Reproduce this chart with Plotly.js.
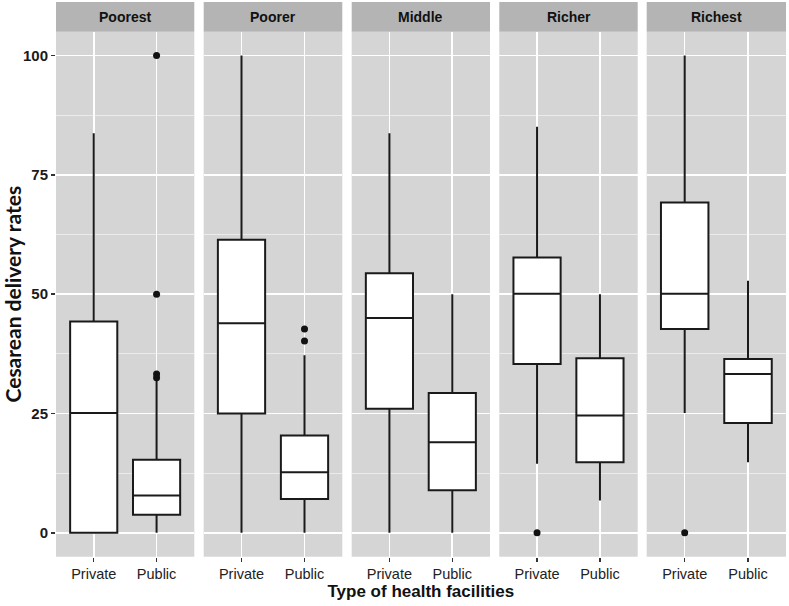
<!DOCTYPE html>
<html>
<head>
<meta charset="utf-8">
<script src="https://cdn.plot.ly/plotly-3.0.1.min.js"></script>
<style>html,body{margin:0;padding:0;background:#fff;}#chart{width:789px;height:606px;}</style>
</head>
<body>
<div id="chart"></div>
<script>
// Data
const groups = ['Poorest', 'Poorer', 'Middle', 'Richer', 'Richest'];
const facilities = ['Private', 'Public'];
const yTicks = [0, 25, 50, 75, 100];

const privateQ1     = [0,    25.0, 26.0, 35.4, 42.7];
const privateMedian = [25.1, 43.9, 45.0, 50.1, 50.1];
const privateQ3     = [44.3, 61.4, 54.4, 57.7, 69.2];
const privateLow    = [0,    0,    0,    14.5, 25.1];
const privateHigh   = [83.7, 100,  83.7, 85.1, 100];

const publicQ1      = [3.8,  7.1,  8.9,  14.8, 23.0];
const publicMedian  = [7.8,  12.7, 19.0, 24.6, 33.3];
const publicQ3      = [15.3, 20.4, 29.3, 36.6, 36.4];
const publicLow     = [0,    0,    0,    6.8,  14.8];
const publicHigh    = [31.8, 37.2, 50,   50,   52.8];

const privateOutliers = [[], [], [], [0], [0]];
const publicOutliers  = [[100, 50, 33.3, 32.5], [42.7, 40.2], [], [], []];

// Layout geometry (pixels)
const W = 789, H = 606;
const panelLeft  = [56, 203.7, 351.7, 499.3, 646.7];
const panelRight = [194.3, 342.3, 490, 637.7, 786];
const panelTop = 31.7, panelBottom = 556.7, stripTop = 2;

const lineColor = '#1a1a1a';
const traces = [];
const layout = {
  width: W, height: H,
  margin: {l: 0, r: 0, t: 0, b: 0},
  paper_bgcolor: '#ffffff',
  plot_bgcolor: '#d5d5d5',
  showlegend: false,
  shapes: [],
  annotations: []
};

const yDomain = [(H - panelBottom) / H, (H - panelTop) / H];

groups.forEach((g, i) => {
  const n = i + 1;
  const xa = n === 1 ? 'x' : 'x' + n;
  const ya = n === 1 ? 'y' : 'y' + n;
  const xKey = n === 1 ? 'xaxis' : 'xaxis' + n;
  const yKey = n === 1 ? 'yaxis' : 'yaxis' + n;

  traces.push({
    type: 'box',
    xaxis: xa, yaxis: ya,
    x: facilities,
    q1: [privateQ1[i], publicQ1[i]],
    median: [privateMedian[i], publicMedian[i]],
    q3: [privateQ3[i], publicQ3[i]],
    lowerfence: [privateLow[i], publicLow[i]],
    upperfence: [privateHigh[i], publicHigh[i]],
    width: 0.75,
    whiskerwidth: 0,
    boxpoints: false,
    fillcolor: '#ffffff',
    line: {color: lineColor, width: 2},
    hoverinfo: 'skip'
  });

  const ox = [], oy = [];
  privateOutliers[i].forEach(v => { ox.push('Private'); oy.push(v); });
  publicOutliers[i].forEach(v => { ox.push('Public'); oy.push(v); });
  traces.push({
    type: 'scatter', mode: 'markers',
    xaxis: xa, yaxis: ya,
    x: ox, y: oy,
    marker: {color: '#111111', size: 7},
    hoverinfo: 'skip'
  });

  layout[xKey] = {
    domain: [panelLeft[i] / W, panelRight[i] / W],
    anchor: ya,
    type: 'category',
    categoryorder: 'array',
    categoryarray: facilities,
    range: [-0.6, 1.6],
    showgrid: true, gridcolor: '#ffffff', gridwidth: 1.6,
    zeroline: false, showline: false,
    ticks: 'outside', ticklen: 4, tickwidth: 1.5, tickcolor: '#333333',
    tickfont: {family: 'Liberation Sans, Arial, sans-serif', size: 14.5, color: '#222222'},
    fixedrange: true
  };
  if (n === 3) {
    layout[xKey].title = {
      text: 'Type of health facilities',
      font: {family: 'Liberation Sans, Arial, sans-serif', size: 17, color: '#111111', weight: 'bold'},
      standoff: 4
    };
  }

  layout[yKey] = {
    domain: yDomain,
    anchor: xa,
    range: [-5, 105],
    tickvals: yTicks,
    ticktext: yTicks.map(String),
    showgrid: true, gridcolor: '#ffffff', gridwidth: 1.6,
    minor: {tick0: 12.5, dtick: 25, showgrid: true, gridcolor: '#ebebeb', gridwidth: 1, ticks: ''},
    zeroline: false, showline: false,
    showticklabels: n === 1,
    ticks: n === 1 ? 'outside' : '',
    ticklen: 4, tickwidth: 1.5, tickcolor: '#333333',
    tickfont: {family: 'Liberation Sans, Arial, sans-serif', size: 15, color: '#1a1a1a', weight: 'bold'},
    fixedrange: true
  };
  if (n !== 1) layout[yKey].matches = 'y';
  if (n === 1) {
    layout[yKey].title = {
      text: 'Cesarean delivery rates',
      font: {family: 'Lato, sans-serif', size: 21, color: '#111111', weight: 'bold'},
      standoff: 6
    };
  }

  // facet strip
  layout.shapes.push({
    type: 'rect', xref: 'paper', yref: 'paper', layer: 'below',
    x0: panelLeft[i] / W, x1: panelRight[i] / W,
    y0: (H - panelTop) / H, y1: (H - stripTop) / H,
    fillcolor: '#b4b4b4', line: {width: 0}
  });
  layout.annotations.push({
    xref: 'paper', yref: 'paper',
    x: (panelLeft[i] + panelRight[i]) / 2 / W,
    y: (H - (panelTop + stripTop) / 2) / H,
    xanchor: 'center', yanchor: 'middle',
    text: g, showarrow: false,
    font: {family: 'Liberation Sans, Arial, sans-serif', size: 14, color: '#111111', weight: 'bold'}
  });
});

Plotly.newPlot('chart', traces, layout, {displayModeBar: false, staticPlot: true});
</script>
</body>
</html>
